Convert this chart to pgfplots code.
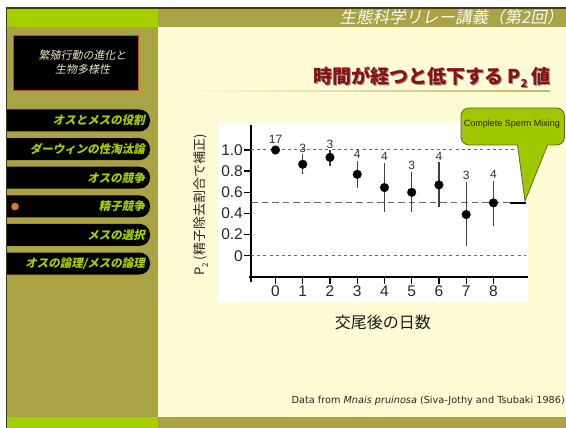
\documentclass[border=0pt]{standalone}
\usepackage{fontspec}
\usepackage{pgfplots}
\usepackage{pgfplotstable}
\pgfplotsset{compat=1.18}
\setmainfont{Liberation Sans}
\newfontfamily\jp{Noto Sans CJK JP}
\newfontfamily\jpsl{Noto Sans CJK JP}[FakeSlant=0.2]
\newfontfamily\dejavu{DejaVu Sans}

\definecolor{olivebg}{HTML}{A9A346}
\definecolor{limebar}{HTML}{A5CF00}
\definecolor{cream}{HTML}{FFFBD5}
\definecolor{frame}{HTML}{3C3C14}
\definecolor{menutext}{HTML}{A8D000}
\definecolor{titlered}{HTML}{8C1010}
\definecolor{callout}{HTML}{9FC800}
\definecolor{calloutedge}{HTML}{5C6818}
\definecolor{boxedge}{HTML}{B4561E}
\definecolor{boxtext}{HTML}{EDE6C0}
\definecolor{dotorange}{HTML}{E07A1E}

% P2 by days after copulation: mean, error (+/-), label height, sample size
\pgfplotstableread{
day  p2     ep     em     top    n
0    1.000  0.000  0.000  1.045  17
1    0.865  0.095  0.095  0.960  3
2    0.930  0.070  0.080  1.000  3
3    0.770  0.130  0.130  0.900  4
4    0.645  0.235  0.235  0.880  4
5    0.600  0.195  0.190  0.795  3
6    0.670  0.217  0.210  0.887  4
7    0.390  0.310  0.295  0.700  3
8    0.500  0.210  0.220  0.710  4
}\ptwo

\begin{document}
\begin{tikzpicture}[x=1pt, y=-1pt]
\useasboundingbox (0,0) rectangle (566,428);
% slide background
\fill[white] (0,0) rectangle (566,428);
\fill[cream] (158,27) rectangle (566,417);
\fill[olivebg] (158,8) rectangle (566,27);
\fill[limebar] (7,8) rectangle (158,27);
\fill[olivebg] (7,27) rectangle (158,417);
\fill[limebar] (7,417) rectangle (158,428);
\fill[olivebg] (158,417) rectangle (566,428);

% header
\node[anchor=east, text=white!94!olivebg, inner sep=0pt] at (563.5,17.5)
  {\jpsl\fontsize{16.5}{16.5}\selectfont 生態科学リレー講義（第2回）};

% lecture box
\filldraw[fill=black, draw=boxedge, line width=0.8pt] (13,35) rectangle (138,90);
\node[text=boxtext, align=center, inner sep=0pt, font=\jpsl\fontsize{11}{14}\selectfont]
  at (82.5,62.5) {繁殖行動の進化と\\生物多様性};

% menu
\foreach \c/\t in {120.5/{オスとメスの役割}, 149.1/{ダーウィンの性淘汰論}, 177.7/{オスの競争},
                   206.3/{精子競争}, 234.9/{メスの選択}, 263.5/{オスの論理/メスの論理}}{
  \fill[black, rounded corners=10.5pt] (-20,\c-11) rectangle (150,\c+11);
  \node[anchor=east, inner sep=0pt, text=menutext] at (145,\c)
    {\jpsl\bfseries\fontsize{11.5}{11.5}\selectfont \t};
}
\fill[dotorange] (15,206.5) circle[radius=3.8];

% frame lines
\fill[white] (0,0) rectangle (6,428);
\fill[frame] (5.5,7.5) rectangle (7.2,428);
\fill[frame] (5.5,7.5) rectangle (566,9);

% slide title
\node[anchor=east, inner sep=0pt, text=black!45] at (552.2,78.2)
  {\jp\bfseries\fontsize{19}{19}\selectfont 時間が経つと低下する P\raisebox{-0.22em}{\fontsize{11}{11}\selectfont 2} 値};
\node[anchor=east, inner sep=0pt, text=titlered] at (551,77)
  {\jp\bfseries\fontsize{19}{19}\selectfont 時間が経つと低下する P\raisebox{-0.22em}{\fontsize{11}{11}\selectfont 2} 値};
\shade[left color=cream, right color=olivebg!75!cream] (178,90.2) rectangle (550,91.8);

% chart panel
\fill[white] (218,123) rectangle (528,302);

\begin{scope}[x=1pt, y=1pt]
\begin{axis}[
  at={(251pt,-277pt)}, anchor=south west,
  scale only axis, width=277pt, height=152pt,
  xmin=-0.9, xmax=9.27, ymin=-0.2, ymax=1.236,
  axis lines=left,
  axis line style={-, line width=2.6pt, black},
  x axis line style={shorten <=-2.5pt},
  y axis line style={shorten <=-5pt},
  xtick={0,...,8},
  ytick={0,0.2,0.4,0.6,0.8,1.0},
  yticklabels={0,0.2,0.4,0.6,0.8,1.0},
  tick align=outside, major tick length=7pt,
  tick style={line width=1.3pt, black},
  /pgf/number format/assume math mode=true,
  tick label style={font=\fontsize{15.5}{16}\selectfont, text=black!85},
  xticklabel style={inner sep=1.5pt},
  yticklabel style={inner sep=1pt},
  xlabel={\jp 交尾後の日数},
  xlabel style={at={(axis description cs:0.4765,-0.296)}, anchor=center,
                font=\fontsize{16}{16}\selectfont, text=black!90},
  ylabel={\jp P\raisebox{-0.25em}{\fontsize{8}{8}\selectfont 2} (精子除去割合で補正)},
  ylabel style={at={(axis description cs:-0.18,0.4737)}, anchor=center,
                font=\fontsize{13}{13}\selectfont, text=black!85},
  clip=false,
]
% reference levels
\addplot[black!60, line width=1pt, dash pattern=on 3pt off 3.2pt] coordinates {(-0.9,1) (9.19,1)};
\addplot[black!60, line width=1pt, dash pattern=on 6.5pt off 4pt] coordinates {(-0.9,0.5) (8.62,0.5)};
\addplot[black!60, line width=1pt, dash pattern=on 3pt off 3.2pt] coordinates {(-0.9,0) (9.19,0)};
% complete sperm mixing level
\addplot[black, line width=2.4pt] coordinates {(8.62,0.5) (9.2,0.5)};
% means with error bars
\addplot[only marks, mark=*, mark size=4.3pt, black,
  error bars/.cd, y dir=both, y explicit, error mark=none,
  error bar style={line width=1.2pt, black!75}]
  table[x=day, y=p2, y error plus=ep, y error minus=em] {\ptwo};
% sample sizes
\addplot[draw=none, mark=none, nodes near coords, point meta=explicit symbolic,
  nodes near coords style={anchor=south, inner sep=0pt, yshift=1.5pt,
    font=\fontsize{12}{12}\selectfont, text=black!80}]
  table[x=day, y=top, meta=n] {\ptwo};
\end{axis}
\end{scope}

% callout
\filldraw[fill=callout, draw=calloutedge, line width=0.8pt, rounded corners=8pt]
  (461,108) rectangle (564.5,145);
\fill[callout] (517.5,144) -- (525,201) -- (547.5,144) -- cycle;
\draw[calloutedge, line width=0.8pt] (517.5,145) -- (525,201) -- (547.5,145);
\node[text=black!80!callout, inner sep=0pt] at (512,124)
  {\fontsize{9}{9}\selectfont Complete Sperm Mixing};

% source
\node[anchor=east, inner sep=0pt, text=black!85] at (565,401)
  {\dejavu\fontsize{9.7}{10}\selectfont Data from \textit{Mnais pruinosa} (Siva-Jothy and Tsubaki 1986)};
\end{tikzpicture}
\end{document}
